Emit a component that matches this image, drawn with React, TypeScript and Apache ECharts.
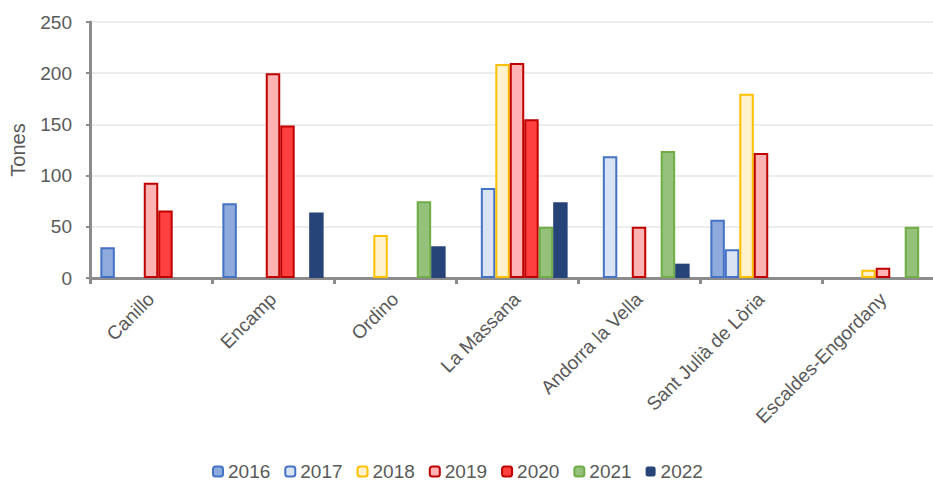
import React, { useEffect, useRef } from "react";
import * as echarts from "echarts";

const categories = [
  "Canillo",
  "Encamp",
  "Ordino",
  "La Massana",
  "Andorra la Vella",
  "Sant Julià de Lòria",
  "Escaldes-Engordany",
];
const years = ["2016", "2017", "2018", "2019", "2020", "2021", "2022"];
const s2016 = [30, 73, null, null, null, 57, null];
const s2017 = [null, null, null, 88, 119, 28, null];
const s2018 = [null, null, 42, 209, null, 180, 8];
const s2019 = [93, 200, null, 210, 50, 122, 10];
const s2020 = [66, 149, null, 155, null, null, null];
const s2021 = [null, null, 75, 50, 124, null, 50];
const s2022 = [null, 64, 31, 74, 14, null, null];
const yTicks = { min: 0, max: 250, interval: 50 };

const seriesData = [s2016, s2017, s2018, s2019, s2020, s2021, s2022];
const fills = ["#8faadc", "#dae3f3", "#fff2cc", "#ffb3b3", "#ff4040", "#95c17a", "#264478"];
const borders = ["#4472c4", "#4472c4", "#ffc000", "#c00000", "#c00000", "#70ad47", "#264478"];

const FONT = "'Liberation Sans', Arial, sans-serif";
const TXT = "#595959";

export default function App() {
  const ref = useRef<HTMLDivElement>(null);
  useEffect(() => {
    if (!ref.current) return;
    const chart = echarts.init(ref.current, null, { renderer: "svg" });
    chart.setOption({
      animation: false,
      textStyle: { fontFamily: FONT },
      grid: { left: 89, top: 22, right: 0, height: 256, containLabel: false },
      legend: {
        left: 212,
        top: 462,
        padding: 0,
        itemWidth: 10,
        itemHeight: 10,
        itemGap: 14,
        textStyle: { color: TXT, fontSize: 19, lineHeight: 18, fontFamily: FONT },
        data: years,
      },
      xAxis: {
        type: "category",
        data: categories,
        axisLine: { lineStyle: { color: "#8c8c8c", width: 3 } },
        axisTick: { show: true, length: 6, lineStyle: { color: "#8c8c8c", width: 3 } },
        axisLabel: {
          rotate: 45,
          margin: 18,
          fontSize: 19,
          color: TXT,
          fontFamily: FONT,
          interval: 0,
        },
      },
      yAxis: {
        type: "value",
        min: yTicks.min,
        max: yTicks.max,
        interval: yTicks.interval,
        name: "Tones",
        nameLocation: "middle",
        nameGap: 62,
        nameTextStyle: { fontSize: 20, color: TXT, fontFamily: FONT },
        axisLine: { show: true, lineStyle: { color: "#8c8c8c", width: 3 } },
        axisTick: { show: true, length: 4, lineStyle: { color: "#8c8c8c", width: 2 } },
        axisLabel: { fontSize: 19, color: TXT, margin: 18, fontFamily: FONT },
        splitLine: { lineStyle: { color: "#ededed", width: 2 } },
      },
      series: years.map((y, i) => ({
        name: y,
        type: "bar",
        data: seriesData[i],
        barGap: "0%",
        barCategoryGap: "17%",
        itemStyle: {
          color: fills[i],
          borderColor: borders[i],
          borderWidth: i === 6 ? 0 : 2,
        },
      })),
    });
    return () => chart.dispose();
  }, []);
  return (
    <div
      style={{
        position: "fixed",
        left: 0,
        top: 0,
        width: 933,
        height: 482,
        overflow: "hidden",
        background: "#fff",
      }}
    >
      <div ref={ref} style={{ width: 944, height: 482 }} />
    </div>
  );
}
